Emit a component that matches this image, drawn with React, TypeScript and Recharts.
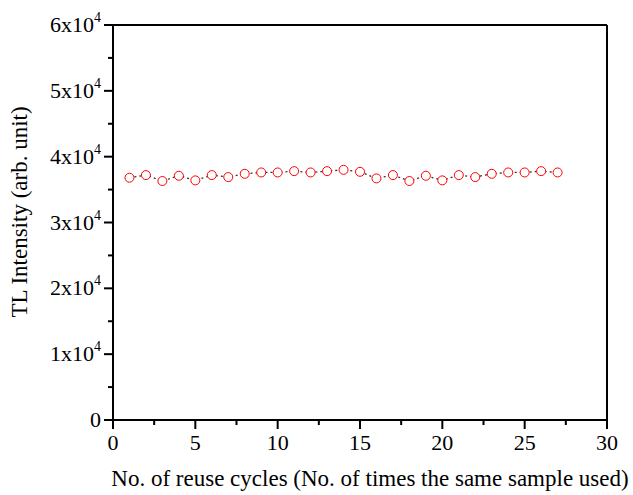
import React from "react"
import { LineChart, Line, XAxis, YAxis, ReferenceLine } from "recharts"

const cycles = [1, 2, 3, 4, 5, 6, 7, 8, 9, 10, 11, 12, 13, 14, 15, 16, 17, 18, 19, 20, 21, 22, 23, 24, 25, 26, 27]
const intensity = [
  36800, 37200, 36300, 37100, 36400, 37200, 36900, 37400, 37600, 37600, 37800, 37600, 37800, 38000,
  37700, 36700, 37200, 36300, 37100, 36400, 37200, 36900, 37400, 37600, 37600, 37800, 37600,
]
const xTicks = [0, 2.5, 5, 7.5, 10, 12.5, 15, 17.5, 20, 22.5, 25, 27.5, 30]
const yTicks = [0, 5000, 10000, 15000, 20000, 25000, 30000, 35000, 40000, 45000, 50000, 55000, 60000]

const data = cycles.map((c, i) => ({ cycle: c, value: intensity[i] }))

const FONT = "'Liberation Serif', 'Times New Roman', serif"

const XTick = (props: any) => {
  const { x, y, payload } = props
  const v = payload.value
  const major = v % 5 === 0
  return (
    <g>
      <line x1={x} x2={x} y1={y} y2={y + (major ? 9 : 5)} stroke="#000" strokeWidth={2} />
      {major && (
        <text x={x} y={y + 30} textAnchor="middle" fontSize={22} fontFamily={FONT} fill="#000">
          {v}
        </text>
      )}
    </g>
  )
}

const YTick = (props: any) => {
  const { x, y, payload } = props
  const v = payload.value
  const major = v % 10000 === 0
  return (
    <g>
      <line x1={x} x2={x - (major ? 9 : 5)} y1={y} y2={y} stroke="#000" strokeWidth={2} />
      {major &&
        (v === 0 ? (
          <text x={x - 12} y={y + 7} textAnchor="end" fontSize={22} fontFamily={FONT} fill="#000">
            0
          </text>
        ) : (
          <text x={x - 12} y={y + 7} textAnchor="end" fontSize={22} fontFamily={FONT} fill="#000">
            {`${v / 10000}x10`}
            <tspan fontSize={14} dy={-10}>4</tspan>
          </text>
        ))}
    </g>
  )
}

export default function App() {
  return (
    <div style={{ position: "absolute", left: 0, top: 0, background: "#fff" }}>
      <LineChart width={633} height={495} data={data} margin={{ top: 25, right: 26, bottom: 0, left: 0 }}>
        <XAxis
          dataKey="cycle"
          type="number"
          domain={[0, 30]}
          ticks={xTicks}
          interval={0}
          tick={<XTick />}
          tickLine={false}
          tickSize={0}
          tickMargin={0}
          axisLine={{ stroke: "#000", strokeWidth: 2 }}
          height={75}
          label={{
            content: () => (
              <text x={370} y={486} textAnchor="middle" fontSize={23} fontFamily={FONT} fill="#000">
                No. of reuse cycles (No. of times the same sample used)
              </text>
            ),
          }}
        />
        <YAxis
          type="number"
          domain={[0, 60000]}
          ticks={yTicks}
          interval={0}
          tick={<YTick />}
          tickLine={false}
          tickSize={0}
          tickMargin={0}
          axisLine={{ stroke: "#000", strokeWidth: 2 }}
          width={113}
          label={{
            content: () => (
              <text
                x={27}
                y={212}
                transform="rotate(-90 27 212)"
                textAnchor="middle"
                fontSize={23}
                fontFamily={FONT}
                fill="#000"
              >
                TL Intensity (arb. unit)
              </text>
            ),
          }}
        />
        <ReferenceLine y={60000} stroke="#000" strokeWidth={2} />
        <ReferenceLine x={30} stroke="#000" strokeWidth={2} />
        <Line
          type="linear"
          dataKey="value"
          stroke="#333"
          strokeWidth={1.3}
          strokeDasharray="2 3"
          dot={{ r: 4.5, stroke: "#f00", strokeWidth: 1, fill: "#fff", strokeDasharray: "none" }}
          isAnimationActive={false}
        />
      </LineChart>
    </div>
  )
}
